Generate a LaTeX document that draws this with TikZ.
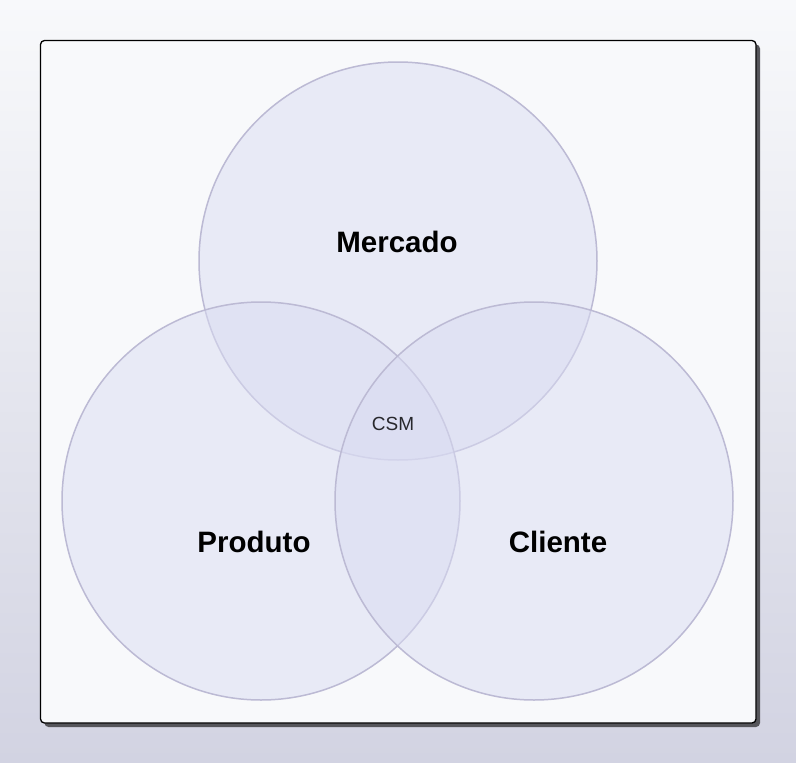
\documentclass[tikz,border=0pt]{standalone}
\usepackage{fontspec}
\setmainfont{Liberation Sans}
\begin{document}
\begin{tikzpicture}[x=1pt,y=-1pt,
  venn/.style={circle,minimum size=398pt,inner sep=0pt,draw=vstroke,line width=1.5pt,fill=vfill,fill opacity=0.5},
  biglabel/.style={font=\fontsize{29.5}{31}\selectfont\bfseries,text=black},
  smalllabel/.style={font=\fontsize{19}{21}\selectfont,text=csmtext}]
\definecolor{bgtop}{RGB}{248,249,251}
\definecolor{bgbot}{RGB}{210,211,226}
\definecolor{panel}{RGB}{248,249,251}
\definecolor{vfill}{RGB}{218,220,242}
\definecolor{vstroke}{RGB}{188,186,212}
\definecolor{csmtext}{RGB}{40,40,45}
\definecolor{shadowc}{RGB}{85,85,90}
\useasboundingbox (0,0) rectangle (796,763);
\shade[top color=bgtop,bottom color=bgbot] (0,0) rectangle (796,763);
\fill[shadowc,rounded corners=4pt] (44.5,44.5) rectangle (760,727);
\draw[black,line width=1.3pt,fill=panel,rounded corners=4pt] (40.5,40.5) rectangle (756,723);
\node[venn] (mercado) at (398,261) {};
\node[venn] (produto) at (261,501) {};
\node[venn] (cliente) at (534,501) {};
\node[biglabel] (lm) at (397,242) {Mercado};
\node[biglabel] (lp) at (254,542) {Produto};
\node[biglabel] (lc) at (558,542) {Cliente};
\node[smalllabel] (csm) at (393,424) {CSM};
\end{tikzpicture}
\end{document}
